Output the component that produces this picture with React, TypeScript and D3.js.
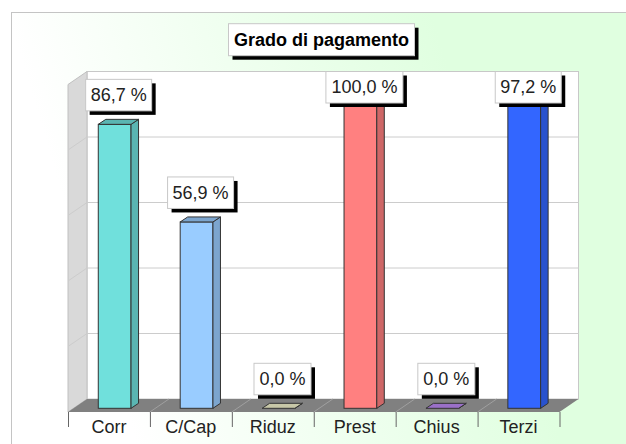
import * as d3 from "d3";

const categories = ["Corr", "C/Cap", "Riduz", "Prest", "Chius", "Terzi"];
const values = [86.7, 56.9, 0, 100, 0, 97.2];
const valueLabels = ["86,7 %", "56,9 %", "0,0 %", "100,0 %", "0,0 %", "97,2 %"];
const barColors = ["#70e0dc", "#99ccff", "#c8c8a8", "#ff8080", "#9a70c8", "#3366ff"];
const gridValues = [20, 40, 60, 80];
const title = "Grado di pagamento";

const width = 626;
const height = 444;
const font = "Arial, 'Liberation Sans', sans-serif";

// back wall and floor of the fake 3d box
const wallLeft = 87;
const wallRight = 578.5;
const wallTop = 71.5;
const wallBottom = 399;
const skewX = 19;
const skewY = 13;
const barDepthX = 7.5;
const barDepthY = 5;
const barDrop = 9.3;

const y = d3.scaleLinear().domain([0, 100]).range([wallBottom, wallTop]);
const tickBand = d3
  .scaleBand<string>()
  .domain(categories)
  .range([wallLeft - skewX, wallRight - skewX]);
const barBand = d3
  .scaleBand<string>()
  .domain(categories)
  .range([wallLeft - skewX + 5.7, wallRight - skewX + 5.7])
  .paddingInner(0.6)
  .paddingOuter(0.3);

const poly = (pts: [number, number][]) => d3.line()(pts) + "Z";

function LabelBox({ cx, top, w, h, text, bold }: { cx: number; top: number; w: number; h: number; text: string; bold?: boolean }) {
  const x = cx - w / 2;
  return (
    <g>
      <rect x={x + 4} y={top + 4} width={w} height={h} fill="#000" />
      <rect x={x} y={top} width={w} height={h} fill="#fff" stroke="#c8c8c8" />
      <text
        x={cx}
        y={top + h / 2 + 6}
        textAnchor="middle"
        fontSize={18}
        fontWeight={bold ? "bold" : "normal"}
        fill={bold ? "#000" : "#222"}
        fontFamily={font}
      >
        {text}
      </text>
    </g>
  );
}

export default function App() {
  const frontLeft = wallLeft - skewX;
  const frontRight = wallRight - skewX;
  const frontBottom = wallBottom + skewY;
  const step = tickBand.step();
  const tickXs = categories.map((c) => tickBand(c)!).concat(frontRight);

  return (
    <svg width={width} height={height} style={{ position: "absolute", left: 0, top: 0, display: "block" }}>
      <defs>
        <linearGradient id="panel" gradientUnits="userSpaceOnUse" x1={75} y1={240} x2={465} y2={123}>
          <stop offset="0" stopColor="#ffffff" />
          <stop offset="1" stopColor="#e0ffe0" />
        </linearGradient>
      </defs>
      <rect x={0} y={0} width={width} height={height} fill="#fff" />
      <rect x={11.5} y={12.5} width={width} height={height} fill="url(#panel)" stroke="#c4c4c4" />

      {/* walls */}
      <rect x={wallLeft} y={wallTop} width={wallRight - wallLeft} height={wallBottom - wallTop} fill="#fff" stroke="#c8c8c8" />
      <path
        d={poly([
          [wallLeft, wallTop],
          [frontLeft, wallTop + skewY],
          [frontLeft, frontBottom],
          [wallLeft, wallBottom],
        ])}
        fill="#d9d9d9"
        stroke="#c0c0c0"
      />
      {gridValues.map((v) => (
        <g key={v} stroke="#cccccc">
          <line x1={wallLeft} x2={wallRight} y1={y(v)} y2={y(v)} />
          <line x1={wallLeft} x2={frontLeft} y1={y(v)} y2={y(v) + skewY} />
        </g>
      ))}

      {/* floor */}
      <path
        d={poly([
          [wallLeft, wallBottom],
          [wallRight, wallBottom],
          [frontRight, frontBottom],
          [frontLeft, frontBottom],
        ])}
        fill="#808080"
      />
      {tickXs.map((x, i) => (
        <g key={i}>
          {i > 0 && i < categories.length && (
            <line x1={x} x2={x + skewX} y1={frontBottom} y2={wallBottom} stroke="#a0a0a0" />
          )}
          <line x1={x + 0.5} x2={x + 0.5} y1={frontBottom} y2={frontBottom + 15} stroke="#666" />
        </g>
      ))}
      {categories.map((c) => (
        <text
          key={c}
          x={tickBand(c)! + step / 2}
          y={433}
          textAnchor="middle"
          fontSize={18}
          fill="#222"
          fontFamily={font}
        >
          {c}
        </text>
      ))}

      {/* bars */}
      {categories.map((c, i) => {
        const x0 = barBand(c)!;
        const x1 = x0 + barBand.bandwidth();
        const bottom = y(0) + barDrop;
        const top = y(values[i]) + barDrop;
        const color = barColors[i];
        const side = d3.color(color)!.darker(0.6).formatHex();
        return (
          <g key={c} stroke="#333" strokeWidth={1}>
            {values[i] > 0 && <rect x={x0} y={top} width={x1 - x0} height={bottom - top} fill={color} />}
            <path
              d={poly([
                [x1, top],
                [x1 + barDepthX, top - barDepthY],
                [x1 + barDepthX, bottom - barDepthY],
                [x1, bottom],
              ])}
              fill={side}
            />
            <path
              d={poly([
                [x0, top],
                [x0 + barDepthX, top - barDepthY],
                [x1 + barDepthX, top - barDepthY],
                [x1, top],
              ])}
              fill={values[i] > 0 ? side : color}
            />
          </g>
        );
      })}

      {/* value labels */}
      {categories.map((c, i) => {
        const cx = barBand(c)! + barBand.bandwidth() / 2 + 4;
        const boxH = 31.5;
        const top = Math.max(wallTop, y(values[i]) + barDrop - barDepthY - 8.5 - boxH);
        const w = valueLabels[i].length > 6 ? 77 : valueLabels[i].length > 5 ? 66 : 57;
        return <LabelBox key={c} cx={cx} top={top} w={w} h={boxH} text={valueLabels[i]} />;
      })}

      <LabelBox cx={321.5} top={23.7} w={186} h={32} text={title} bold />
    </svg>
  );
}
